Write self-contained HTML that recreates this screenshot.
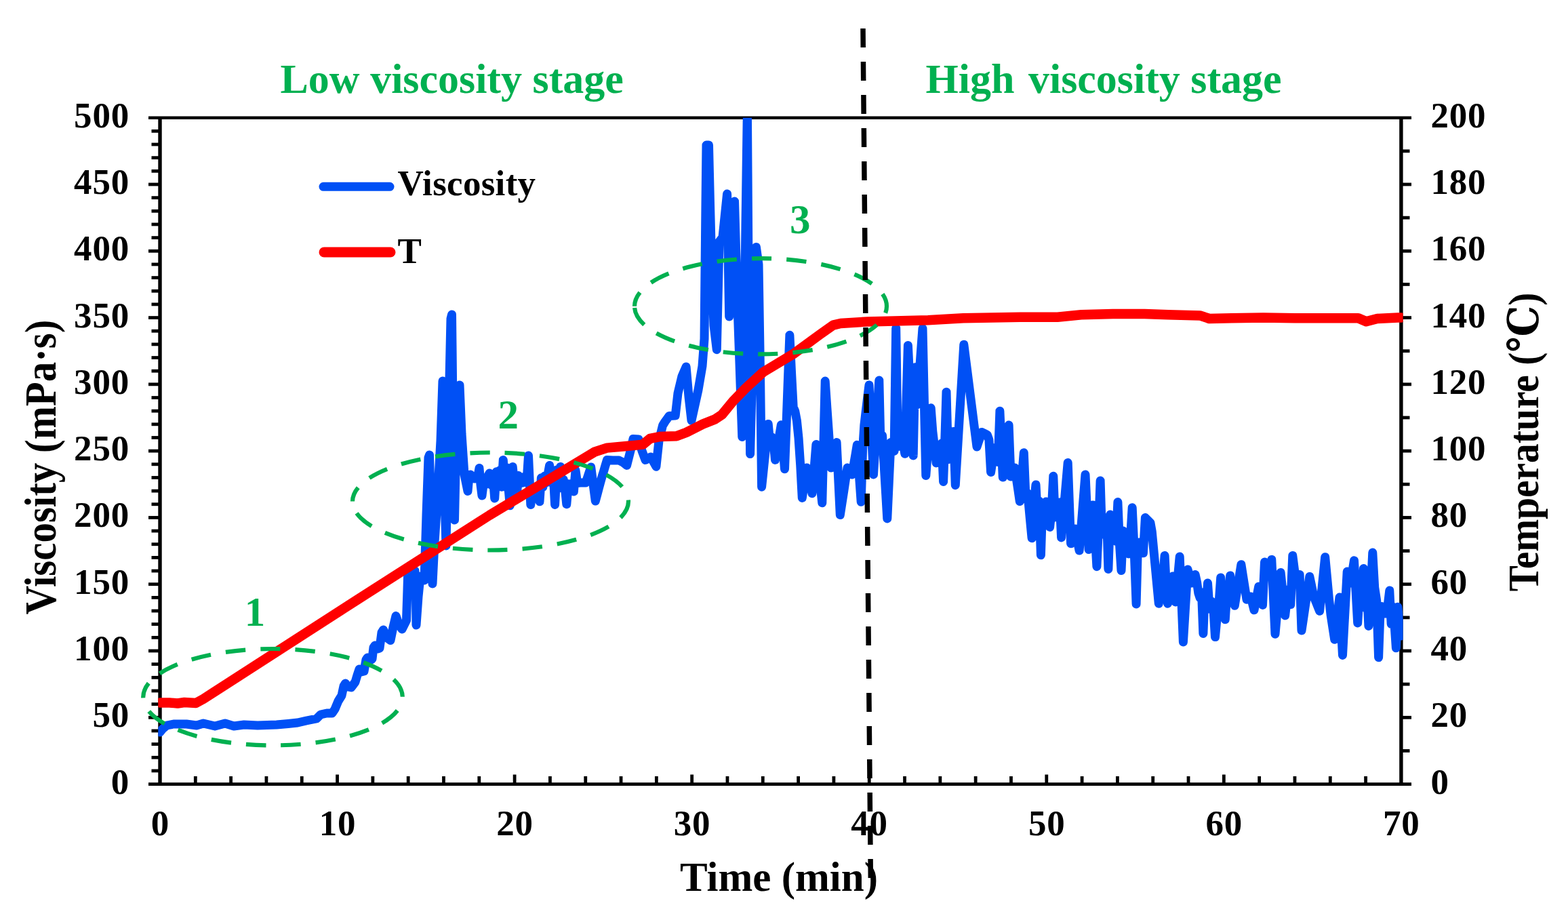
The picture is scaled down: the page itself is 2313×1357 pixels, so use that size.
<!DOCTYPE html>
<html lang="en"><head><meta charset="utf-8"><title>Viscosity and temperature vs time</title>
<style>
html,body{margin:0;padding:0;background:#fff;}
body{width:2313px;height:1357px;overflow:hidden;}
svg{display:block;}
text{font-family:"Liberation Serif","DejaVu Serif",serif;font-weight:bold;}
.tk{font-size:53px;fill:#000;letter-spacing:0.8px;}
.ax{fill:#000;}
.g{fill:#00b050;}
</style></head><body>
<svg xmlns="http://www.w3.org/2000/svg" width="2313" height="1357" viewBox="0 0 2313 1357">
<rect width="2313" height="1357" fill="#fff"/>

<g stroke="#000" fill="none" stroke-linecap="butt">
<line x1="219" y1="173.7" x2="2082" y2="173.7" stroke-width="4.6"/>
<line x1="219" y1="1156.6" x2="2082" y2="1156.6" stroke-width="4.6"/>
<line x1="236.0" y1="173.7" x2="236.0" y2="1156.6" stroke-width="5.4"/>
<line x1="2066.9" y1="173.7" x2="2066.9" y2="1156.6" stroke-width="5.4"/>
<g stroke-width="4.8">
<line x1="223.5" y1="1136.94" x2="236.0" y2="1136.94"/>
<line x1="223.5" y1="1117.28" x2="236.0" y2="1117.28"/>
<line x1="223.5" y1="1097.63" x2="236.0" y2="1097.63"/>
<line x1="223.5" y1="1077.97" x2="236.0" y2="1077.97"/>
<line x1="219" y1="1058.31" x2="236.0" y2="1058.31"/>
<line x1="223.5" y1="1038.65" x2="236.0" y2="1038.65"/>
<line x1="223.5" y1="1018.99" x2="236.0" y2="1018.99"/>
<line x1="223.5" y1="999.34" x2="236.0" y2="999.34"/>
<line x1="223.5" y1="979.68" x2="236.0" y2="979.68"/>
<line x1="219" y1="960.02" x2="236.0" y2="960.02"/>
<line x1="223.5" y1="940.36" x2="236.0" y2="940.36"/>
<line x1="223.5" y1="920.70" x2="236.0" y2="920.70"/>
<line x1="223.5" y1="901.05" x2="236.0" y2="901.05"/>
<line x1="223.5" y1="881.39" x2="236.0" y2="881.39"/>
<line x1="219" y1="861.73" x2="236.0" y2="861.73"/>
<line x1="223.5" y1="842.07" x2="236.0" y2="842.07"/>
<line x1="223.5" y1="822.41" x2="236.0" y2="822.41"/>
<line x1="223.5" y1="802.76" x2="236.0" y2="802.76"/>
<line x1="223.5" y1="783.10" x2="236.0" y2="783.10"/>
<line x1="219" y1="763.44" x2="236.0" y2="763.44"/>
<line x1="223.5" y1="743.78" x2="236.0" y2="743.78"/>
<line x1="223.5" y1="724.12" x2="236.0" y2="724.12"/>
<line x1="223.5" y1="704.47" x2="236.0" y2="704.47"/>
<line x1="223.5" y1="684.81" x2="236.0" y2="684.81"/>
<line x1="219" y1="665.15" x2="236.0" y2="665.15"/>
<line x1="223.5" y1="645.49" x2="236.0" y2="645.49"/>
<line x1="223.5" y1="625.83" x2="236.0" y2="625.83"/>
<line x1="223.5" y1="606.18" x2="236.0" y2="606.18"/>
<line x1="223.5" y1="586.52" x2="236.0" y2="586.52"/>
<line x1="219" y1="566.86" x2="236.0" y2="566.86"/>
<line x1="223.5" y1="547.20" x2="236.0" y2="547.20"/>
<line x1="223.5" y1="527.54" x2="236.0" y2="527.54"/>
<line x1="223.5" y1="507.89" x2="236.0" y2="507.89"/>
<line x1="223.5" y1="488.23" x2="236.0" y2="488.23"/>
<line x1="219" y1="468.57" x2="236.0" y2="468.57"/>
<line x1="223.5" y1="448.91" x2="236.0" y2="448.91"/>
<line x1="223.5" y1="429.25" x2="236.0" y2="429.25"/>
<line x1="223.5" y1="409.60" x2="236.0" y2="409.60"/>
<line x1="223.5" y1="389.94" x2="236.0" y2="389.94"/>
<line x1="219" y1="370.28" x2="236.0" y2="370.28"/>
<line x1="223.5" y1="350.62" x2="236.0" y2="350.62"/>
<line x1="223.5" y1="330.96" x2="236.0" y2="330.96"/>
<line x1="223.5" y1="311.31" x2="236.0" y2="311.31"/>
<line x1="223.5" y1="291.65" x2="236.0" y2="291.65"/>
<line x1="219" y1="271.99" x2="236.0" y2="271.99"/>
<line x1="223.5" y1="252.33" x2="236.0" y2="252.33"/>
<line x1="223.5" y1="232.67" x2="236.0" y2="232.67"/>
<line x1="223.5" y1="213.02" x2="236.0" y2="213.02"/>
<line x1="223.5" y1="193.36" x2="236.0" y2="193.36"/>
<line x1="2066.9" y1="1107.45" x2="2079.5" y2="1107.45"/>
<line x1="2066.9" y1="1058.31" x2="2082" y2="1058.31"/>
<line x1="2066.9" y1="1009.16" x2="2079.5" y2="1009.16"/>
<line x1="2066.9" y1="960.02" x2="2082" y2="960.02"/>
<line x1="2066.9" y1="910.88" x2="2079.5" y2="910.88"/>
<line x1="2066.9" y1="861.73" x2="2082" y2="861.73"/>
<line x1="2066.9" y1="812.59" x2="2079.5" y2="812.59"/>
<line x1="2066.9" y1="763.44" x2="2082" y2="763.44"/>
<line x1="2066.9" y1="714.29" x2="2079.5" y2="714.29"/>
<line x1="2066.9" y1="665.15" x2="2082" y2="665.15"/>
<line x1="2066.9" y1="616.00" x2="2079.5" y2="616.00"/>
<line x1="2066.9" y1="566.86" x2="2082" y2="566.86"/>
<line x1="2066.9" y1="517.72" x2="2079.5" y2="517.72"/>
<line x1="2066.9" y1="468.57" x2="2082" y2="468.57"/>
<line x1="2066.9" y1="419.43" x2="2079.5" y2="419.43"/>
<line x1="2066.9" y1="370.28" x2="2082" y2="370.28"/>
<line x1="2066.9" y1="321.13" x2="2079.5" y2="321.13"/>
<line x1="2066.9" y1="271.99" x2="2082" y2="271.99"/>
<line x1="2066.9" y1="222.85" x2="2079.5" y2="222.85"/>
<line x1="288.31" y1="1156.6" x2="288.31" y2="1145"/>
<line x1="340.62" y1="1156.6" x2="340.62" y2="1145"/>
<line x1="392.93" y1="1156.6" x2="392.93" y2="1145"/>
<line x1="445.25" y1="1156.6" x2="445.25" y2="1145"/>
<line x1="497.56" y1="1156.6" x2="497.56" y2="1142.5"/>
<line x1="549.87" y1="1156.6" x2="549.87" y2="1145"/>
<line x1="602.18" y1="1156.6" x2="602.18" y2="1145"/>
<line x1="654.49" y1="1156.6" x2="654.49" y2="1145"/>
<line x1="706.80" y1="1156.6" x2="706.80" y2="1145"/>
<line x1="759.11" y1="1156.6" x2="759.11" y2="1142.5"/>
<line x1="811.43" y1="1156.6" x2="811.43" y2="1145"/>
<line x1="863.74" y1="1156.6" x2="863.74" y2="1145"/>
<line x1="916.05" y1="1156.6" x2="916.05" y2="1145"/>
<line x1="968.36" y1="1156.6" x2="968.36" y2="1145"/>
<line x1="1020.67" y1="1156.6" x2="1020.67" y2="1142.5"/>
<line x1="1072.98" y1="1156.6" x2="1072.98" y2="1145"/>
<line x1="1125.29" y1="1156.6" x2="1125.29" y2="1145"/>
<line x1="1177.61" y1="1156.6" x2="1177.61" y2="1145"/>
<line x1="1229.92" y1="1156.6" x2="1229.92" y2="1145"/>
<line x1="1282.23" y1="1156.6" x2="1282.23" y2="1142.5"/>
<line x1="1334.54" y1="1156.6" x2="1334.54" y2="1145"/>
<line x1="1386.85" y1="1156.6" x2="1386.85" y2="1145"/>
<line x1="1439.16" y1="1156.6" x2="1439.16" y2="1145"/>
<line x1="1491.47" y1="1156.6" x2="1491.47" y2="1145"/>
<line x1="1543.79" y1="1156.6" x2="1543.79" y2="1142.5"/>
<line x1="1596.10" y1="1156.6" x2="1596.10" y2="1145"/>
<line x1="1648.41" y1="1156.6" x2="1648.41" y2="1145"/>
<line x1="1700.72" y1="1156.6" x2="1700.72" y2="1145"/>
<line x1="1753.03" y1="1156.6" x2="1753.03" y2="1145"/>
<line x1="1805.34" y1="1156.6" x2="1805.34" y2="1142.5"/>
<line x1="1857.65" y1="1156.6" x2="1857.65" y2="1145"/>
<line x1="1909.97" y1="1156.6" x2="1909.97" y2="1145"/>
<line x1="1962.28" y1="1156.6" x2="1962.28" y2="1145"/>
<line x1="2014.59" y1="1156.6" x2="2014.59" y2="1145"/>
</g></g>
<clipPath id="plot"><rect x="233.3" y="173.7" width="1836.3000000000002" height="982.8999999999999"/></clipPath>
<g clip-path="url(#plot)">
<polyline points="236.0,1080.0 240.0,1075.0 246.0,1070.0 256.0,1068.0 275.0,1068.0 290.0,1070.0 300.0,1067.0 317.0,1071.0 332.0,1067.0 345.0,1071.0 360.0,1069.0 380.0,1070.0 408.0,1069.0 425.0,1067.5 439.0,1066.0 452.0,1063.0 467.0,1060.0 473.0,1054.0 482.0,1052.0 490.0,1052.0 494.0,1046.0 499.0,1034.0 504.0,1026.0 507.0,1012.0 509.5,1008.0 513.0,1013.0 518.0,1014.0 524.0,1006.0 527.0,996.0 530.0,987.0 533.0,991.0 537.0,990.0 540.0,973.0 542.0,970.0 546.0,974.0 549.0,972.0 551.0,955.0 553.0,952.0 557.0,957.0 560.0,956.0 563.0,933.0 565.5,929.0 570.0,940.0 576.0,944.5 580.0,925.0 584.0,908.5 588.0,920.0 593.0,928.0 599.5,915.0 601.0,870.0 601.8,842.0 606.0,850.0 609.0,856.0 612.0,842.0 613.5,880.0 614.0,922.0 617.0,880.0 620.0,850.0 626.0,856.0 629.0,760.0 632.0,675.0 633.5,671.0 636.0,760.0 638.0,861.0 641.0,800.0 645.0,740.0 650.0,650.0 653.0,562.0 655.0,700.0 658.0,805.0 661.0,650.0 665.0,470.0 666.5,464.0 668.0,600.0 670.5,767.0 673.0,650.0 676.0,572.0 678.0,568.0 681.0,640.0 685.0,700.0 690.0,724.5 692.0,702.0 694.0,700.0 697.0,704.0 700.0,706.0 702.3,705.2 704.7,704.0 707.0,690.5 709.0,715.0 711.0,731.0 713.8,708.5 716.5,714.5 719.2,703.2 722.0,698.0 724.6,715.3 727.1,700.0 729.7,735.0 732.2,695.8 734.7,717.3 737.3,693.8 739.8,718.2 742.3,678.5 744.8,717.8 747.3,689.8 749.8,717.2 752.3,745.8 754.2,692.8 756.2,688.5 759.1,715.6 762.0,735.0 764.5,701.5 767.0,713.3 769.5,703.7 772.0,711.9 774.5,704.2 777.0,710.5 779.5,672.0 782.8,744.4 785.0,728.0 787.2,727.8 789.4,726.0 791.6,730.1 793.8,728.0 796.0,739.8 798.4,704.8 800.9,718.2 803.3,702.2 805.7,711.9 808.2,699.7 810.6,686.5 813.3,711.9 815.9,695.6 818.6,744.4 821.3,692.9 823.9,717.8 826.6,688.5 828.9,720.1 831.2,707.3 833.5,721.3 835.8,743.8 838.4,713.7 841.1,723.4 843.7,713.2 846.4,724.9 849.0,694.0 851.3,710.0 853.7,712.2 856.0,712.0 858.7,712.0 861.3,712.0 864.0,712.0 866.6,704.3 869.1,696.7 871.7,689.0 873.9,705.7 876.1,722.3 878.3,739.0 880.8,729.7 883.2,720.5 885.7,711.2 888.1,702.9 890.6,694.8 893.0,686.6 895.5,678.5 904.0,679.0 913.0,679.0 919.0,682.0 924.6,686.4 930.0,665.0 934.0,647.5 942.0,648.0 947.0,665.0 952.0,678.5 960.0,674.0 967.9,688.2 972.0,650.0 977.6,627.5 981.0,622.0 987.3,613.4 996.2,613.0 1000.0,580.0 1006.0,555.0 1012.1,541.0 1016.0,585.0 1020.0,620.3 1030.0,575.0 1036.0,540.0 1039.0,500.0 1040.0,400.0 1041.0,300.0 1042.0,214.0 1045.5,214.0 1047.5,300.0 1050.0,400.0 1053.0,480.0 1057.3,515.7 1061.0,356.5 1066.0,350.0 1072.6,286.0 1075.7,467.0 1083.5,297.0 1088.0,450.0 1094.8,644.5 1099.0,400.0 1102.4,160.0 1104.0,400.0 1106.6,669.6 1111.0,500.0 1115.4,364.5 1119.0,390.0 1121.5,550.0 1123.6,718.2 1126.0,695.0 1128.4,671.8 1130.8,648.6 1133.2,625.4 1135.8,653.3 1138.3,644.5 1140.9,651.5 1143.5,678.4 1146.4,661.2 1149.4,644.0 1152.3,626.8 1154.9,659.3 1157.5,691.7 1160.0,625.9 1162.4,560.1 1164.9,494.3 1167.5,548.8 1170.2,600.4 1172.8,606.7 1175.4,620.4 1178.0,645.8 1180.7,685.9 1183.3,734.4 1185.5,719.6 1187.8,704.8 1190.0,690.0 1192.7,705.0 1195.3,715.2 1198.0,727.8 1201.0,691.7 1203.9,655.6 1206.9,684.3 1209.8,713.1 1212.8,741.8 1215.0,652.0 1217.2,562.1 1220.1,604.7 1223.1,647.4 1226.0,690.0 1228.7,677.5 1231.4,665.1 1234.1,652.6 1236.7,706.0 1239.3,759.5 1242.0,742.1 1244.7,724.7 1247.3,707.4 1250.0,690.0 1252.3,693.3 1254.7,696.7 1257.0,700.0 1259.4,685.4 1261.9,670.9 1264.3,656.3 1267.2,698.3 1270.2,740.3 1272.6,662.7 1274.9,626.7 1277.3,606.2 1279.6,586.9 1282.0,568.0 1285.2,634.0 1288.5,700.0 1291.3,653.7 1294.0,607.3 1296.8,561.0 1299.2,665.9 1301.6,642.6 1304.0,683.4 1306.4,724.2 1308.8,765.0 1311.4,708.8 1314.0,652.6 1316.5,657.0 1319.1,665.2 1321.7,484.0 1324.3,658.7 1326.9,627.6 1329.6,629.0 1332.2,653.3 1334.8,669.3 1337.1,589.4 1339.4,509.5 1342.0,563.7 1344.6,561.4 1347.2,672.0 1350.0,541.7 1352.7,597.0 1355.5,559.5 1358.2,522.0 1361.0,484.5 1363.4,593.0 1365.8,701.5 1368.3,668.3 1370.7,635.0 1373.2,601.8 1375.8,636.3 1378.5,659.3 1381.1,682.9 1383.7,658.3 1386.3,681.4 1389.0,653.9 1391.6,710.5 1393.8,648.9 1396.0,578.2 1398.7,677.8 1401.3,641.0 1404.0,656.4 1406.6,636.4 1409.3,715.7 1411.8,674.2 1414.3,632.7 1416.8,591.2 1419.3,549.7 1421.8,508.2 1441.0,659.0 1443.4,651.8 1445.9,644.6 1448.3,637.4 1451.0,638.8 1453.6,640.1 1456.3,641.5 1458.9,648.8 1461.6,696.5 1464.3,678.4 1466.9,660.4 1469.6,673.0 1472.2,681.5 1474.9,606.2 1477.1,655.0 1479.3,703.9 1482.2,678.3 1485.2,652.6 1488.1,627.0 1491.0,703.0 1494.0,696.5 1497.0,690.0 1499.4,706.5 1501.9,723.0 1504.3,739.5 1507.3,704.9 1510.3,667.7 1512.7,725.5 1515.0,726.6 1517.4,743.3 1519.7,768.5 1522.1,793.7 1525.0,744.4 1528.0,715.0 1530.5,762.3 1532.9,738.9 1535.4,818.8 1537.9,742.0 1540.5,762.5 1543.0,740.0 1545.8,762.6 1548.6,777.5 1551.2,752.5 1553.8,702.3 1556.2,762.9 1558.5,745.4 1560.9,759.4 1563.2,740.9 1565.6,793.0 1568.0,747.2 1570.4,737.7 1572.8,710.1 1575.2,682.4 1577.4,742.1 1579.6,801.8 1582.8,790.9 1586.0,780.0 1589.0,796.0 1592.1,812.1 1595.1,774.7 1598.0,737.4 1601.0,700.0 1603.5,755.3 1606.1,810.6 1609.0,773.8 1612.0,745.0 1615.0,784.5 1617.9,835.7 1620.5,778.1 1623.1,709.0 1625.5,786.4 1627.8,769.3 1630.2,789.1 1632.5,763.6 1634.9,839.4 1637.7,759.1 1640.5,795.0 1643.3,766.1 1646.1,798.3 1648.9,740.6 1651.5,802.9 1654.0,841.6 1656.7,783.0 1659.4,812.4 1662.1,788.6 1664.8,816.9 1667.5,793.0 1670.2,748.7 1673.2,813.1 1676.1,891.0 1678.5,802.0 1681.0,800.0 1683.7,807.9 1686.4,815.8 1689.4,763.5 1691.9,766.0 1694.4,768.5 1696.9,771.0 1699.3,784.5 1701.8,810.9 1704.3,837.4 1706.8,863.8 1709.3,890.2 1712.2,866.6 1715.2,855.1 1718.1,819.5 1720.3,863.9 1722.5,890.2 1725.0,852.0 1727.5,870.5 1730.0,850.0 1732.0,870.5 1734.0,888.0 1737.1,854.5 1740.2,821.0 1742.8,884.0 1745.4,947.0 1747.6,911.3 1749.8,875.7 1752.0,840.0 1755.0,850.0 1758.0,860.0 1760.5,853.8 1763.1,847.5 1765.5,858.3 1767.8,874.6 1770.2,881.9 1772.5,873.7 1774.9,934.4 1777.1,877.8 1779.3,893.1 1781.5,860.0 1784.2,898.2 1787.0,886.8 1789.8,895.1 1792.5,939.6 1795.2,910.4 1798.0,890.6 1800.7,851.9 1802.9,886.9 1805.1,878.9 1807.3,913.8 1809.8,874.9 1812.2,877.9 1814.7,849.0 1816.9,874.6 1819.1,868.2 1821.3,893.2 1823.7,878.1 1826.1,863.0 1828.5,847.8 1830.9,832.7 1833.6,849.9 1836.3,867.1 1839.0,884.3 1842.0,882.1 1845.0,880.0 1847.5,889.9 1850.0,899.8 1852.2,888.3 1854.5,876.7 1856.7,865.2 1859.6,878.8 1862.5,892.4 1865.5,829.1 1867.8,839.5 1870.0,850.0 1872.9,837.7 1875.8,825.4 1878.4,880.3 1881.0,935.2 1883.7,905.0 1886.4,874.7 1889.1,844.5 1891.3,865.6 1893.5,886.8 1895.7,907.9 1897.8,889.0 1900.0,870.0 1903.8,891.7 1906.8,819.5 1909.4,839.8 1912.0,860.0 1914.5,853.8 1917.1,847.5 1920.0,930.0 1922.4,914.1 1924.7,898.2 1927.1,882.2 1929.4,866.3 1931.8,850.4 1934.3,862.2 1936.7,874.0 1939.2,883.0 1941.7,889.1 1944.1,895.2 1946.6,901.3 1949.3,874.8 1952.0,848.2 1954.7,821.7 1957.5,851.7 1960.3,881.8 1963.1,907.1 1965.9,925.2 1968.7,943.3 1971.1,922.5 1973.6,901.8 1976.0,881.0 1978.2,923.8 1980.5,966.5 1982.7,925.3 1985.0,884.2 1987.2,843.0 1989.6,858.0 1992.0,860.0 1994.8,843.4 1997.5,826.8 2000.1,872.9 2002.7,919.0 2005.6,871.1 2008.6,892.2 2011.5,838.6 2014.0,896.6 2016.4,872.3 2018.9,923.4 2021.8,875.9 2024.8,815.0 2027.7,866.6 2030.7,885.9 2033.6,969.8 2036.2,896.6 2038.8,894.6 2041.4,903.0 2044.0,905.0 2046.9,895.2 2049.8,871.0 2052.2,920.5 2054.6,895.2 2057.0,920.5 2059.4,955.8 2061.8,895.2 2064.3,920.5 2066.7,938.0" fill="none" stroke="#0050f5" stroke-width="13" stroke-linejoin="round" stroke-linecap="round"/>
<polyline points="236.0,1036.5 250.0,1036.5 262.0,1037.5 272.0,1036.0 289.0,1037.0 300.0,1031.0 540.0,876.3 722.0,760.0 860.0,676.9 877.7,666.3 895.4,660.6 921.9,658.3 948.4,655.6 959.0,646.8 973.2,644.1 998.0,643.3 1012.1,638.0 1036.9,625.6 1054.6,618.5 1065.2,611.4 1081.1,592.0 1100.0,572.5 1125.8,548.9 1170.0,522.3 1210.0,493.0 1229.0,479.6 1240.0,477.0 1280.0,474.4 1369.0,472.2 1421.0,469.2 1505.0,467.7 1560.0,467.7 1595.0,464.2 1641.7,463.0 1688.4,463.0 1723.4,464.2 1770.0,465.4 1784.0,470.0 1816.8,469.3 1863.5,468.4 1910.2,469.3 2003.6,469.3 2015.3,474.2 2031.6,470.0 2062.0,468.4 2066.7,468.4" fill="none" stroke="#ff0000" stroke-width="14.5" stroke-linejoin="round" stroke-linecap="round"/>
</g>
<g class="tk" text-anchor="end">
<text x="191" y="1170.6">0</text>
<text x="191" y="1072.3">50</text>
<text x="191" y="974.0">100</text>
<text x="191" y="875.7">150</text>
<text x="191" y="777.4">200</text>
<text x="191" y="679.1">250</text>
<text x="191" y="580.9">300</text>
<text x="191" y="482.6">350</text>
<text x="191" y="384.3">400</text>
<text x="191" y="286.0">450</text>
<text x="191" y="187.7">500</text>
</g>
<g class="tk" text-anchor="start">
<text x="2110.5" y="1170.6">0</text>
<text x="2110.5" y="1072.3">20</text>
<text x="2110.5" y="974.0">40</text>
<text x="2110.5" y="875.7">60</text>
<text x="2110.5" y="777.4">80</text>
<text x="2110.5" y="679.1">100</text>
<text x="2110.5" y="580.9">120</text>
<text x="2110.5" y="482.6">140</text>
<text x="2110.5" y="384.3">160</text>
<text x="2110.5" y="286.0">180</text>
<text x="2110.5" y="187.7">200</text>
</g>
<g class="tk" text-anchor="middle">
<text x="236.4" y="1231.5">0</text>
<text x="498.0" y="1231.5">10</text>
<text x="759.5" y="1231.5">20</text>
<text x="1021.1" y="1231.5">30</text>
<text x="1282.6" y="1231.5">40</text>
<text x="1544.2" y="1231.5">50</text>
<text x="1805.7" y="1231.5">60</text>
<text x="2067.3" y="1231.5">70</text>
</g>
<text class="ax" font-size="61" text-anchor="middle" x="1149" y="1313.5">Time (min)</text>
<text class="ax" font-size="64.5" text-anchor="middle" transform="translate(81.8,689) rotate(-90) scale(0.914,1)">Viscosity (mPa·s)</text>
<text class="ax" font-size="63" text-anchor="middle" transform="translate(2269,652) rotate(-90) scale(0.9124,1)">Temperature (℃)</text>
<text class="g" font-size="62" x="413.5" y="137">Low viscosity stage</text>
<text class="g" font-size="62" x="1365.5" y="136.5" >High <tspan dx="5">viscosity stage</tspan></text>
<g fill="none" stroke="#00b050" stroke-width="6.2">
<path d="M211.2,1028.2 A191.3,71.2 0 1 1 593.8,1028.2 A191.3,71.2 0 1 1 211.2,1028.2" stroke-dasharray="29.4 22.0" stroke-dashoffset="7"/>
<path d="M520.0,739.5 A203.5,72 0 1 1 927.0,739.5 A203.5,72 0 1 1 520.0,739.5" stroke-dasharray="29.4 22.0" stroke-dashoffset="7"/>
<path d="M936,451.8 A186,70.6 0 1 1 1308,451.8 A186,70.6 0 1 1 936,451.8" stroke-dasharray="29.4 22.0" stroke-dashoffset="7"/>
</g>
<text class="g" font-size="61" text-anchor="middle" x="376" y="922.5">1</text>
<text class="g" font-size="61" text-anchor="middle" x="749.8" y="631.5">2</text>
<text class="g" font-size="61" text-anchor="middle" x="1180.2" y="343.5">3</text>
<line x1="477" y1="275.3" x2="575" y2="275.3" stroke="#0050f5" stroke-width="13" stroke-linecap="round"/>
<line x1="478" y1="372" x2="576" y2="372" stroke="#ff0000" stroke-width="15" stroke-linecap="round"/>
<text font-size="53" x="586.5" y="288.3" letter-spacing="0.3">Viscosity</text>
<text font-size="53" x="586.5" y="388">T</text>
<line x1="1273" y1="42" x2="1284.5" y2="1315" stroke="#000" stroke-width="7.5" stroke-dasharray="28 21"/>
</svg>
</body></html>
